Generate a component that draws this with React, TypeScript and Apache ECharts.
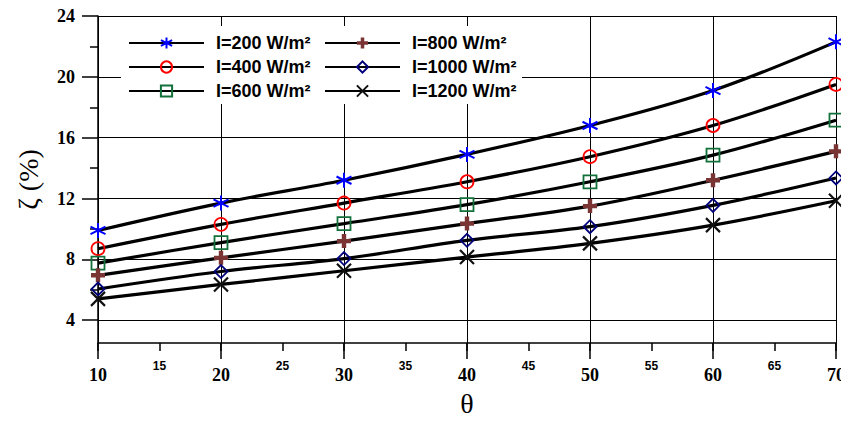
import React, { useEffect, useRef } from "react";
import * as echarts from "echarts";

const thetaValues = [10, 20, 30, 40, 50, 60, 70];
const seriesNames = [
  "I=200 W/m²",
  "I=400 W/m²",
  "I=600 W/m²",
  "I=800 W/m²",
  "I=1000 W/m²",
  "I=1200 W/m²",
];
const zeta200 = [9.9, 11.7, 13.2, 14.9, 16.8, 19.1, 22.3];
const zeta400 = [8.7, 10.3, 11.7, 13.1, 14.75, 16.8, 19.5];
const zeta600 = [7.75, 9.1, 10.35, 11.6, 13.1, 14.85, 17.15];
const zeta800 = [6.95, 8.1, 9.2, 10.35, 11.5, 13.2, 15.1];
const zeta1000 = [6.05, 7.2, 8.05, 9.25, 10.15, 11.55, 13.35];
const zeta1200 = [5.4, 6.35, 7.25, 8.15, 9.05, 10.25, 11.85];
const yMajorTicks = [4, 8, 12, 16, 20, 24];
const yMinorTicks = [6, 10, 14, 18, 22];

const ASTERISK = "path://M7,0V14M0.9,3.5L13.1,10.5M0.9,10.5L13.1,3.5";
const PLUS = "path://M4.8,0H9.2V4.8H14V9.2H9.2V14H4.8V9.2H0V4.8H4.8Z";
const CROSS = "path://M0,0L14,14M0,14L14,0";

const markerStyles = [
  { symbol: ASTERISK, color: "rgba(0,0,0,0)", border: "#0000ff", bw: 2, size: 15 },
  { symbol: "circle", color: "rgba(0,0,0,0)", border: "#ff0000", bw: 1.8, size: 13 },
  { symbol: "rect", color: "rgba(0,0,0,0)", border: "#12703a", bw: 1.8, size: 13 },
  { symbol: PLUS, color: "#7a3434", border: "#7a3434", bw: 0, size: 14 },
  { symbol: "diamond", color: "rgba(0,0,0,0)", border: "#00007a", bw: 1.8, size: 13 },
  { symbol: CROSS, color: "rgba(0,0,0,0)", border: "#111111", bw: 2.2, size: 14 },
];

const allValues = [zeta200, zeta400, zeta600, zeta800, zeta1000, zeta1200];

export default function App() {
  const ref = useRef<HTMLDivElement>(null);
  useEffect(() => {
    if (!ref.current) return;
    const chart = echarts.init(ref.current, null, {
      renderer: "svg",
      width: 841,
      height: 422,
    });
    const series = allValues.map((vals, i) => ({
      name: seriesNames[i],
      type: "line",
      xAxisIndex: 0,
      yAxisIndex: 0,
      smooth: 0.35,
      data: vals.map((v, j) => [thetaValues[j], v]),
      symbol: markerStyles[i].symbol,
      symbolSize: markerStyles[i].size,
      showAllSymbol: true,
      lineStyle: { color: "#000", width: 3.2 },
      itemStyle: {
        color: markerStyles[i].color,
        borderColor: markerStyles[i].border,
        borderWidth: markerStyles[i].bw,
      },
      z: 2,
    }));
    const legendText = {
      color: "#000",
      fontFamily: "Liberation Sans",
      fontWeight: "bold",
      fontSize: 18,
      lineHeight: 18,
      padding: [0, 0, 0, 7],
    };
    const option: any = {
      animation: false,
      backgroundColor: "#fff",
      grid: {
        left: 98,
        top: 16,
        width: 738,
        height: 327,
        containLabel: false,
        outerBoundsMode: "none",
      },
      graphic: [
        {
          type: "rect",
          shape: { x: 121, y: 26, width: 401, height: 78 },
          style: { fill: "#fff" },
          z: 3,
        },
      ],
      legend: [
        {
          data: seriesNames.slice(0, 3),
          orient: "vertical",
          left: 128,
          top: 34,
          padding: 0,
          itemWidth: 75,
          itemHeight: 14,
          itemGap: 6,
          textStyle: legendText,
          lineStyle: { width: 2 },
          z: 4,
        },
        {
          data: seriesNames.slice(3, 6),
          orient: "vertical",
          left: 324,
          top: 34,
          padding: 0,
          itemWidth: 75,
          itemHeight: 14,
          itemGap: 6,
          textStyle: legendText,
          lineStyle: { width: 2 },
          z: 4,
        },
      ],
      xAxis: [
        {
          type: "value",
          min: 10,
          max: 70,
          interval: 10,
          position: "bottom",
          name: "θ",
          nameLocation: "middle",
          nameGap: 46,
          nameTextStyle: { fontFamily: "Liberation Serif", fontSize: 28, color: "#000" },
          axisLine: { show: true, lineStyle: { color: "#000", width: 1.5 } },
          axisTick: { show: true, length: 16, lineStyle: { color: "#000", width: 1.5 } },
          axisLabel: {
            margin: 23,
            color: "#000",
            fontFamily: "Liberation Serif",
            fontWeight: "bold",
            fontSize: 18,
          },
          splitLine: { show: true, lineStyle: { color: "#000", width: 1 } },
        },
        {
          type: "value",
          min: 10,
          max: 70,
          interval: 5,
          position: "bottom",
          axisLine: { show: false },
          axisTick: { show: true, length: 8, lineStyle: { color: "#000", width: 1.5 } },
          axisLabel: {
            margin: 17,
            color: "#000",
            fontFamily: "Liberation Sans",
            fontWeight: "bold",
            fontSize: 12,
            formatter: (v: number) => (v % 10 === 0 ? "" : String(v)),
          },
          splitLine: { show: false },
        },
      ],
      yAxis: [
        {
          type: "value",
          min: 2.5,
          max: 24,
          minInterval: 4,
          maxInterval: 4,
          position: "left",
          name: "ζ (%)",
          nameLocation: "middle",
          nameGap: 56,
          nameTextStyle: { fontFamily: "Liberation Serif", fontSize: 28, color: "#000" },
          axisLine: { show: true, lineStyle: { color: "#000", width: 1.5 } },
          axisTick: {
            show: true,
            length: 16,
            customValues: yMajorTicks,
            lineStyle: { color: "#000", width: 1.5 },
          },
          axisLabel: {
            customValues: yMajorTicks,
            margin: 23,
            color: "#000",
            fontFamily: "Liberation Serif",
            fontWeight: "bold",
            fontSize: 18,
          },
          splitLine: { show: true, lineStyle: { color: "#000", width: 1 } },
        },
        {
          type: "value",
          min: 2.5,
          max: 24,
          position: "left",
          axisLine: { show: false },
          axisTick: {
            show: true,
            length: 8,
            customValues: yMinorTicks,
            lineStyle: { color: "#000", width: 1.5 },
          },
          axisLabel: { show: false },
          splitLine: { show: false },
        },
      ],
      series,
    };
    chart.setOption(option);
    return () => chart.dispose();
  }, []);
  return (
    <div
      ref={ref}
      style={{ position: "fixed", left: 0, top: 0, width: 841, height: 422 }}
    />
  );
}
